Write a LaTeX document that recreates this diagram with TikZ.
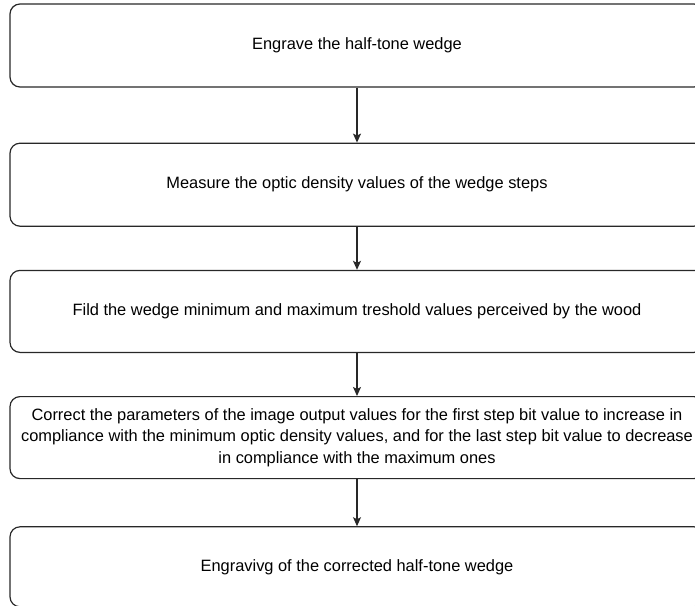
\documentclass[tikz,border=0pt]{standalone}
\usepackage{fontspec}
\setmainfont{Liberation Sans}
\usetikzlibrary{arrows.meta, positioning}
\definecolor{cLine}{RGB}{40,40,40}
\tikzset{
	stepbox/.style  ={rectangle, rounded corners=10pt, draw=cLine, line width=1.2pt, minimum width=694pt, minimum height=83pt, inner xsep=0pt, align=center, font=\fontsize{16.4}{21.3}\selectfont},
	flowarrow/.style={-{Stealth[length=9pt, width=8pt, inset=2pt]}, line width=1.2pt, draw=cLine},
}

\begin{document}
\begin{tikzpicture}[x=1pt, y=-1pt]
	\useasboundingbox (0,0) rectangle (695,605);
	\node[stepbox] (engrave) at (357,45.5) {Engrave the half-tone wedge};
	\node[stepbox, below=55pt of engrave] (measure) {Measure the optic density values of the wedge steps};
	\node[stepbox, below=43pt of measure, minimum height=82pt] (fild) {Fild the wedge minimum and maximum treshold values perceived by the wood};
	\node[stepbox, below=43pt of fild, minimum height=82pt] (correct) {Correct the parameters of the image output values for the first step bit value to increase in\\ compliance with the minimum optic density values, and for the last step bit value to decrease\\ in compliance with the maximum ones};
	\node[stepbox, below=47pt of correct, minimum height=80pt] (final) {Engravivg of the corrected half-tone wedge};
	\draw[flowarrow] (engrave) -- (measure);
	\draw[flowarrow] (measure) -- (fild);
	\draw[flowarrow] (fild) -- (correct);
	\draw[flowarrow] (correct) -- (final);
\end{tikzpicture}
\end{document}
